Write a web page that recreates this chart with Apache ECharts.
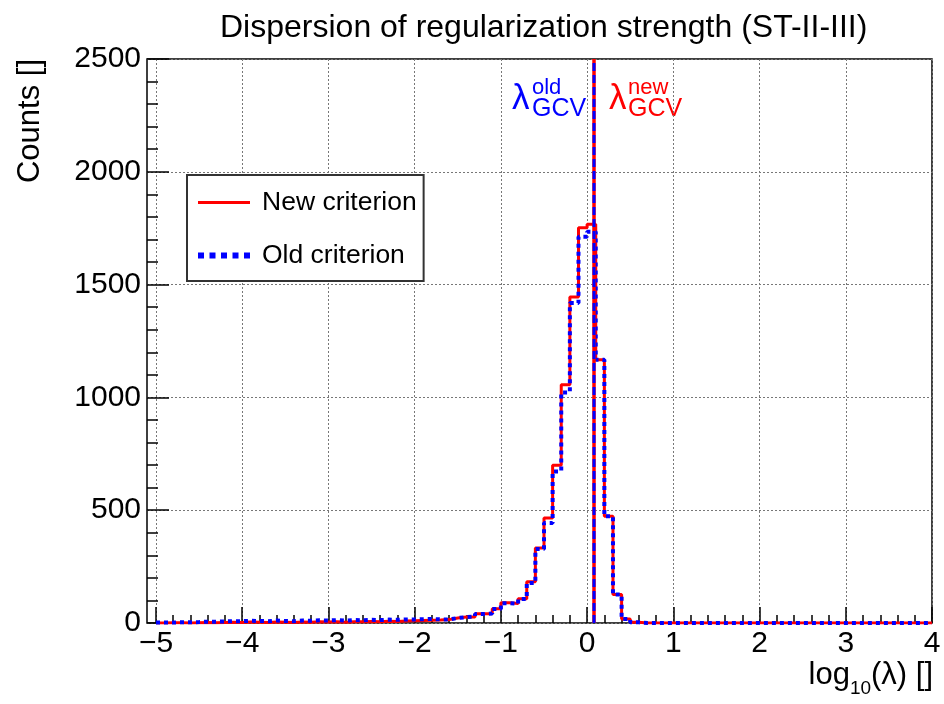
<!DOCTYPE html>
<html>
<head>
<meta charset="utf-8">
<script src="https://cdn.jsdelivr.net/npm/echarts@6/dist/echarts.min.js"></script>
<style>
  html, body { margin: 0; padding: 0; background: #fff; }
  #main { width: 944px; height: 704px; }
</style>
</head>
<body>
<div id="main"></div>
<script>
// histogram binning: 90 bins of 0.1 from -5 to 4
var binStart = -5;
var binWidth = 0.1;

// new criterion counts per bin
var newCounts = [
    0, 1, 1, 0, 1, 2, 1, 2, 3, 2,
    4, 3, 2, 4, 3, 2, 4, 3, 5, 4,
    5, 3, 6, 5, 7, 6, 8, 7, 9, 10,
    11, 12, 13, 15, 22, 27, 27, 41, 41, 63,
    90, 86, 108, 183, 332, 465, 699, 1056, 1445, 1752,
    1768, 1167, 473, 126, 18, 3, 0, 0, 0, 0,
    0, 0, 0, 0, 0, 0, 0, 0, 0, 0,
    0, 0, 0, 0, 0, 0, 0, 0, 0, 0,
    0, 0, 0, 0, 0, 0, 0, 0, 0, 0
];
// old criterion counts per bin
var oldCounts = [
    2, 2, 3, 3, 4, 6, 6, 7, 8, 8,
    10, 9, 8, 11, 9, 8, 11, 10, 12, 11,
    13, 10, 13, 12, 14, 13, 15, 14, 16, 16,
    17, 18, 16, 16, 22, 26, 28, 40, 42, 62,
    88, 85, 106, 177, 328, 443, 672, 1022, 1418, 1712,
    1734, 1167, 473, 126, 18, 3, 0, 0, 0, 0,
    0, 0, 0, 0, 0, 0, 0, 0, 0, 0,
    0, 0, 0, 0, 0, 0, 0, 0, 0, 0,
    0, 0, 0, 0, 0, 0, 0, 0, 0, 0
];
// optimal lambda (log10) found by each criterion
var gcvNew = 0.08;
var gcvOld = 0.08;

var xMin = -5, xMax = 4;
var yMin = 0, yMax = 2500;

function toSteps(counts) {
    var pts = [];
    for (let i = 0; i < counts.length; i++) {
        pts.push([+(binStart + i * binWidth).toFixed(2), counts[i]]);
    }
    pts.push([+(binStart + counts.length * binWidth).toFixed(2), counts[counts.length - 1]]);
    return pts;
}

var font = 'Liberation Sans, Arial, Helvetica, sans-serif';
var dotted = { color: '#777', width: 1, type: [2, 2] };
var tickLine = { color: '#000', width: 1.5 };

// dotted legend icon: little blue squares
var oldIcon = 'path://M0,0h6v6h-6Z M11.5,0h6v6h-6Z M23,0h6v6h-6Z M34.5,0h6v6h-6Z M46,0h6v6h-6Z';

var myChart = echarts.init(document.getElementById('main'));
var option = {
    backgroundColor: '#fff',
    animation: false,
    title: {
        text: 'Dispersion of regularization strength (ST-II-III)',
        left: 215,
        top: 7,
        textStyle: { fontFamily: font, fontSize: 32, fontWeight: 'normal', color: '#000' }
    },
    grid: [
        // frame + y axis (the frame starts a bit left of x = -5, like ROOT)
        { left: 147, right: 12, top: 59, bottom: 81, show: true, borderColor: '#000', borderWidth: 1.5 },
        // histogram area
        { left: 156, right: 12, top: 59, bottom: 81, show: false }
    ],
    legend: {
        orient: 'vertical',
        left: 187,
        top: 175,
        padding: [14, 7, 12, 11],
        itemGap: 26,
        itemWidth: 52,
        itemHeight: 14,
        backgroundColor: '#fff',
        borderColor: '#333',
        borderWidth: 2,
        textStyle: { fontFamily: font, fontSize: 26.5, color: '#000', padding: [0, 0, 0, 7] },
        data: [
            { name: 'New criterion', icon: 'path://M0,0 L52,0 L52,3 L0,3 Z', itemStyle: { color: '#ff0000' } },
            { name: 'Old criterion', icon: oldIcon, itemStyle: { color: '#0000ff' } }
        ]
    },
    xAxis: [
        { gridIndex: 0, type: 'value', min: 0, max: 1, show: false },
        {
            gridIndex: 1, type: 'value',
            min: xMin, max: xMax, interval: 1,
            axisLine: { show: false },
            axisTick: { show: true, inside: true, length: 16, lineStyle: tickLine },
            minorTick: { show: true, splitNumber: 5, length: 8, lineStyle: tickLine },
            splitLine: { show: true, lineStyle: dotted },
            axisLabel: {
                margin: 6, fontFamily: font, fontSize: 30, color: '#000',
                formatter: function (v) { return String(v).replace('-', '\u2212'); }
            }
        }
    ],
    yAxis: [
        {
            gridIndex: 0, type: 'value',
            min: yMin, max: yMax, interval: 500,
            axisLine: { show: false },
            axisTick: { show: true, inside: true, length: 22, lineStyle: tickLine },
            minorTick: { show: true, splitNumber: 5, length: 11, lineStyle: tickLine },
            splitLine: { show: true, lineStyle: dotted },
            axisLabel: {
                margin: 6, fontFamily: font, fontSize: 30, color: '#000',
                formatter: function (v) { return String(v); }
            }
        },
        { gridIndex: 1, type: 'value', min: yMin, max: yMax, show: false }
    ],
    graphic: [
        {   // y axis title
            type: 'text', x: 30, y: 59, rotation: Math.PI / 2,
            style: { text: 'Counts []', fill: '#000', font: '31px ' + font, textAlign: 'right', textVerticalAlign: 'middle' }
        },
        {   // x axis title
            type: 'text', x: 933, y: 660,
            style: {
                text: '{a|log}{b|10}{a|(\u03bb) []}', textAlign: 'right', textVerticalAlign: 'top',
                rich: {
                    a: { fontFamily: font, fontSize: 31, color: '#000', verticalAlign: 'top', lineHeight: 32 },
                    b: { fontFamily: font, fontSize: 19, color: '#000', verticalAlign: 'top', padding: [19, 0, 0, 0], lineHeight: 20 }
                }
            }
        },
        { type: 'text', x: 512, y: 82, style: { text: '\u03bb', fill: '#0000ff', font: '35px ' + font } },
        { type: 'text', x: 532, y: 77, style: { text: 'old', fill: '#0000ff', font: '22px ' + font } },
        { type: 'text', x: 532, y: 97, style: { text: 'GCV', fill: '#0000ff', font: '25px ' + font } },
        { type: 'text', x: 609, y: 82, style: { text: '\u03bb', fill: '#ff0000', font: '35px ' + font } },
        { type: 'text', x: 628, y: 77, style: { text: 'new', fill: '#ff0000', font: '22px ' + font } },
        { type: 'text', x: 628, y: 97, style: { text: 'GCV', fill: '#ff0000', font: '25px ' + font } }
    ],
    series: [
        {
            name: 'New criterion', type: 'line', step: 'end', symbol: 'none',
            xAxisIndex: 1, yAxisIndex: 1,
            data: toSteps(newCounts),
            lineStyle: { color: '#ff0000', width: 3 },
            itemStyle: { color: '#ff0000' },
            z: 2
        },
        {
            name: 'Old criterion', type: 'line', step: 'end', symbol: 'none',
            xAxisIndex: 1, yAxisIndex: 1,
            data: toSteps(oldCounts),
            lineStyle: { color: '#0000ff', width: 4, type: [4, 4] },
            itemStyle: { color: '#0000ff' },
            z: 3
        },
        {
            name: 'gcvNew', type: 'line', symbol: 'none',
            xAxisIndex: 1, yAxisIndex: 1,
            data: [[gcvNew, yMin], [gcvNew, yMax]],
            lineStyle: { color: '#ff0000', width: 3.5 },
            z: 4
        },
        {
            name: 'gcvOld', type: 'line', symbol: 'none',
            xAxisIndex: 1, yAxisIndex: 1,
            data: [[gcvOld, yMin], [gcvOld, yMax]],
            lineStyle: { color: '#0000ff', width: 3, type: [8, 4] },
            z: 5
        }
    ]
};
myChart.setOption(option);
</script>
</body>
</html>
